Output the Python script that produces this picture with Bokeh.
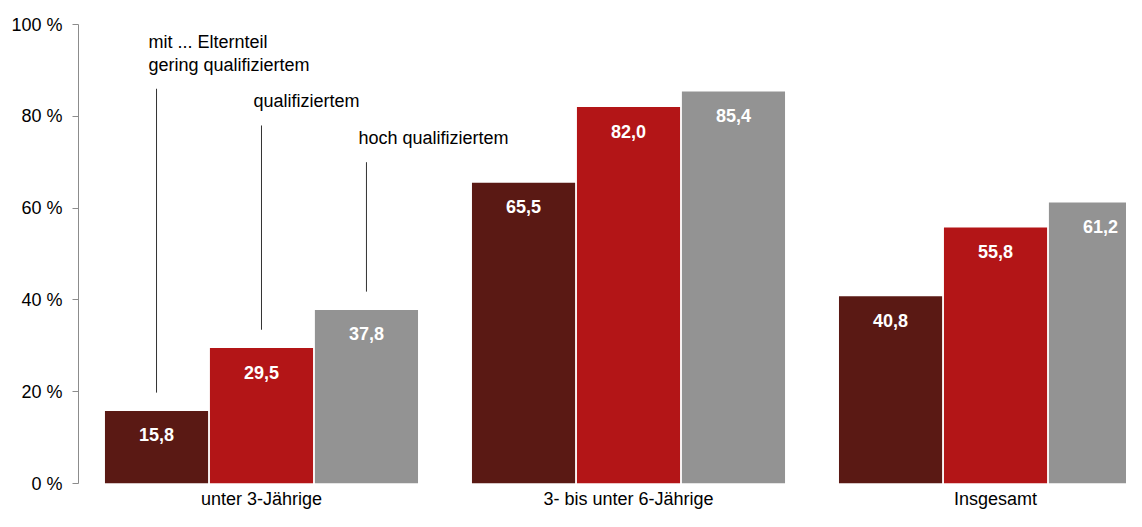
from bokeh.plotting import figure
from bokeh.models import ColumnDataSource, Range1d, FixedTicker
from bokeh.core.properties import value
from bokeh.embed import file_html
from bokeh.resources import INLINE

categories = ["unter 3-Jährige", "3- bis unter 6-Jährige", "Insgesamt"]
series_names = ["gering qualifiziertem", "qualifiziertem", "hoch qualifiziertem"]
gering = [15.8, 65.5, 40.8]
qualifiziert = [29.5, 82.0, 55.8]
hoch = [37.8, 85.4, 61.2]
y_ticks = [0, 20, 40, 60, 80, 100]

colors = ["#5a1914", "#b31517", "#939393"]
offsets = [-0.286, 0.0, 0.286]
bar_w = 0.281
FONT = "Liberation Sans"
FS = "18px"

p = figure(width=1126, height=511, output_backend="svg", toolbar_location=None,
           x_range=Range1d(-0.4986, 2.3569), y_range=Range1d(0, 100),
           min_border_left=78, min_border_right=0, min_border_top=24, min_border_bottom=22)
p.outline_line_color = None
p.grid.visible = False
p.background_fill_color = "white"
p.border_fill_color = "white"

all_series = [gering, qualifiziert, hoch]
for k, vals in enumerate(all_series):
    xs = [i + offsets[k] for i in range(len(categories))]
    labels = [f"{v:.1f}".replace(".", ",") for v in vals]
    src = ColumnDataSource(dict(x=xs, top=vals, label=labels))
    p.vbar(x="x", top="top", bottom=0, width=bar_w, source=src,
           fill_color=colors[k], line_color=None)
    p.text(x="x", y="top", text="label", source=src, text_align="center",
           text_baseline="middle", y_offset=24, text_color="white",
           text_font=value(FONT), text_font_style="bold", text_font_size=FS)

# annotation for first group
ann_x = [0 + o for o in offsets]
ann_top = [86, 78, 70]
ann_bottom = [v + 4 for v in (gering[0], qualifiziert[0], hoch[0])]
p.segment(x0=ann_x, y0=ann_bottom, x1=ann_x, y1=ann_top, line_color="#333333", line_width=1)
ann_src = ColumnDataSource(dict(x=ann_x, y=ann_top, t=series_names))
p.text(x="x", y="y", text="t", source=ann_src, x_offset=-8, y_offset=-24,
       text_align="left", text_baseline="middle", text_color="black",
       text_font=value(FONT), text_font_size=FS)
p.text(x=[ann_x[0]], y=[ann_top[0]], text=["mit ... Elternteil"], x_offset=-8, y_offset=-47,
       text_align="left", text_baseline="middle", text_color="black",
       text_font=value(FONT), text_font_size=FS)

# y axis
ya = p.yaxis[0]
ya.ticker = FixedTicker(ticks=y_ticks)
ya.major_label_overrides = {t: f"{t} %" for t in y_ticks}
ya.axis_line_color = "#8c8c8c"
ya.major_tick_line_color = "#8c8c8c"
ya.major_tick_out = 6
ya.major_tick_in = 0
ya.minor_tick_line_color = None
ya.major_label_standoff = 10
ya.major_label_text_font = FONT
ya.major_label_text_font_size = FS
ya.major_label_text_color = "black"

# x axis
xa = p.xaxis[0]
xa.ticker = FixedTicker(ticks=list(range(len(categories))))
xa.major_label_overrides = {i: c for i, c in enumerate(categories)}
xa.axis_line_color = None
xa.major_tick_line_color = None
xa.major_tick_out = 0
xa.major_tick_in = 0
xa.minor_tick_line_color = None
xa.major_label_standoff = 5
xa.major_label_text_font = FONT
xa.major_label_text_font_size = FS
xa.major_label_text_color = "black"

open("out.html", "w").write(file_html(p, INLINE))
